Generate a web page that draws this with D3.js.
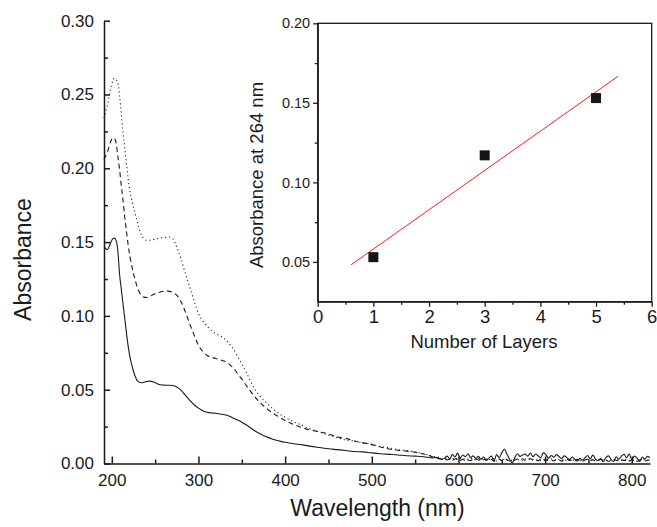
<!DOCTYPE html>
<html><head><meta charset="utf-8">
<script src="https://cdn.jsdelivr.net/npm/d3@7"></script>
<style>
body{margin:0;background:#fff}
svg{display:block}
text{font-family:"Liberation Sans",Arial,Helvetica,sans-serif;fill:#1a1a1a}
</style>
</head><body>
<svg id="c" width="657" height="527"></svg>
<script>
// ---- Main spectrum data (wavelength in nm) ----
const wavelength = [
191,193,195,197,199,201,203,205,207,209,
211,213,215,217,219,221,223,225,227,229,
231,234,237,240,244,248,252,256,260,265,
270,275,280,285,290,295,300,305,310,315,
320,325,330,335,340,345,350,355,360,365,
370,375,380,385,390,395,400,410,420,430,
440,450,460,470,480,490,500,510,520,530,
540,550,560,570,
575,578,581,584,587,590,593,596,599,602,
605,608,611,614,617,620,623,626,629,632,
635,638,641,644,647,650,653,656,659,662,
665,668,671,674,677,680,683,686,689,692,
695,698,701,704,707,710,713,716,719,722,
725,728,731,734,737,740,743,746,749,752,
755,758,761,764,767,770,773,776,779,782,
785,788,791,794,797,800,803,806,809,812,
815,818,821];

// 1 layer (solid)
const absLayer1 = [
.1470,.1455,.1450,.1470,.1500,.1522,.1527,.1512,.1440,.1280,
.1180,.1080,.0980,.0880,.0790,.0720,.0670,.0625,.0590,.0565,
.0553,.0547,.0551,.0555,.0558,.0552,.0542,.0534,.0531,.0530,
.0528,.0518,.0495,.0462,.0428,.0398,.0375,.0358,.0347,.0342,
.0340,.0335,.0330,.0322,.0309,.0295,.0280,.0262,.0242,.0222,
.0205,.0190,.0177,.0166,.0157,.0150,.0144,.0134,.0126,.0116,
.0108,.0100,.0094,.0088,.0081,.0079,.0072,.0066,.0062,.0058,
.0053,.0050,.0046,.0038,
.0040,.0032,.0028,.0036,.0050,.0030,.0062,.0044,.0070,.0038,
.0058,.0046,.0066,.0040,.0052,.0034,.0048,.0028,.0044,.0020,
.0036,.0050,.0018,.0060,.0040,.0072,.0098,.0062,.0030,.0004,
.0040,.0066,.0048,.0058,.0064,.0050,.0070,.0046,.0064,.0052,
.0040,.0074,.0058,.0036,.0054,.0042,.0060,.0048,.0034,.0052,
.0040,.0026,.0044,.0030,.0016,.0036,.0022,.0040,.0054,.0030,
.0058,.0032,.0020,.0034,.0012,.0040,.0052,.0028,.0014,.0046,
.0030,.0050,.0062,.0038,.0066,.0024,.0050,.0036,.0014,.0044,
.0030,.0048,.0040];

// 3 layers (dashed)
const absLayer3 = [
.2060,.2085,.2110,.2150,.2185,.2205,.2203,.2170,.2080,.1990,
.1880,.1780,.1665,.1570,.1475,.1400,.1340,.1285,.1245,.1200,
.1170,.1140,.1127,.1125,.1132,.1145,.1155,.1162,.1167,.1168,
.1160,.1140,.1095,.1025,.0945,.0870,.0800,.0760,.0732,.0720,
.0712,.0702,.0692,.0675,.0648,.0610,.0572,.0530,.0490,.0452,
.0420,.0390,.0366,.0345,.0326,.0308,.0292,.0264,.0242,.0226,
.0214,.0200,.0180,.0170,.0152,.0140,.0128,.0112,.0098,.0090,
.0084,.0076,.0064,.0046,
.0040,.0034,.0028,.0034,.0024,.0032,.0022,.0030,.0036,.0022,
.0028,.0034,.0024,.0020,.0030,.0024,.0032,.0018,.0026,.0030,
.0022,.0028,.0016,.0024,.0030,.0020,.0034,.0026,.0018,.0028,
.0022,.0030,.0024,.0032,.0020,.0026,.0034,.0022,.0028,.0018,
.0030,.0024,.0020,.0032,.0026,.0018,.0028,.0022,.0016,.0026,
.0030,.0020,.0024,.0018,.0028,.0022,.0014,.0024,.0030,.0020,
.0026,.0016,.0022,.0028,.0018,.0024,.0014,.0020,.0028,.0022,
.0016,.0026,.0020,.0030,.0018,.0024,.0020,.0014,.0024,.0028,
.0018,.0022,.0026];

// 5 layers (dotted)
const absLayer5 = [
.2340,.2385,.2430,.2490,.2545,.2590,.2610,.2600,.2580,.2490,
.2365,.2235,.2135,.2025,.1925,.1840,.1785,.1735,.1690,.1645,
.1600,.1550,.1522,.1513,.1513,.1517,.1522,.1527,.1530,.1535,
.1525,.1465,.1385,.1285,.1195,.1100,.1015,.0965,.0930,.0900,
.0880,.0865,.0845,.0815,.0778,.0728,.0675,.0620,.0558,.0505,
.0465,.0430,.0402,.0375,.0352,.0330,.0313,.0283,.0257,.0232,
.0212,.0192,.0176,.0160,.0152,.0138,.0132,.0115,.0106,.0094,
.0088,.0078,.0066,.0050,
.0044,.0038,.0032,.0026,.0034,.0028,.0036,.0024,.0030,.0034,
.0026,.0020,.0030,.0036,.0024,.0028,.0020,.0032,.0026,.0022,
.0030,.0024,.0034,.0018,.0028,.0024,.0030,.0022,.0026,.0020,
.0032,.0024,.0028,.0018,.0030,.0034,.0024,.0028,.0020,.0026,
.0022,.0030,.0018,.0026,.0032,.0024,.0020,.0028,.0022,.0030,
.0018,.0026,.0020,.0028,.0024,.0016,.0026,.0020,.0028,.0024,
.0018,.0026,.0030,.0020,.0024,.0018,.0026,.0022,.0016,.0028,
.0024,.0020,.0026,.0018,.0022,.0028,.0020,.0016,.0026,.0022,
.0028,.0020,.0024];

// ---- Inset data ----
const layers = [1, 3, 5];
const abs264 = [0.053, 0.117, 0.153];
const fitLayers = [0.6, 5.4];
const fitAbs = [0.0482, 0.1668];

// ---- Tick values ----
const mainXTicks = [200, 300, 400, 500, 600, 700, 800];
const mainXMinor = [250, 350, 450, 550, 650, 750];
const mainYTicks = [0, 0.05, 0.10, 0.15, 0.20, 0.25, 0.30];
const mainYMinor = [0.025, 0.075, 0.125, 0.175, 0.225, 0.275];
const insetXTicks = [0, 1, 2, 3, 4, 5, 6];
const insetXMinor = [0.5, 1.5, 2.5, 3.5, 4.5, 5.5];
const insetYTicks = [0.05, 0.10, 0.15, 0.20];
const insetYMinor = [0.075, 0.125, 0.175];

const svg = d3.select("#c");
const ink = "#1a1a1a";

// ---- Main plot ----
const x = d3.scaleLinear().domain([191, 821]).range([104, 650]);
const y = d3.scaleLinear().domain([0, 0.30]).range([463.5, 20.7]);

function styleAxis(g, w) {
  g.select(".domain").attr("stroke", ink).attr("stroke-width", w);
  g.selectAll(".tick line").attr("stroke", ink).attr("stroke-width", w);
}

const series = [
  {vals: absLayer1, dash: null},
  {vals: absLayer3, dash: "5,3.5"},
  {vals: absLayer5, dash: "1.1,2.9"}
];
const line = d3.line().x(d => x(d[0])).y(d => y(d[1])).curve(d3.curveMonotoneX);
series.forEach(s => {
  const pts = s.vals.map((v, i) => [wavelength[i], v]).filter(p => p[0] !== undefined);
  svg.append("path").datum(pts)
    .attr("d", line).attr("fill", "none")
    .attr("stroke", ink).attr("stroke-width", 1.1)
    .attr("stroke-dasharray", s.dash);
});

const gx = svg.append("g").attr("transform", "translate(0,463.5)")
  .call(d3.axisBottom(x).tickValues(mainXTicks).tickSize(-7).tickSizeOuter(0).tickPadding(10).tickFormat(d3.format("d")));
gx.selectAll("text").attr("font-size", 17).attr("fill", ink);
styleAxis(gx, 1.5);
const gxm = svg.append("g").attr("transform", "translate(0,463.5)")
  .call(d3.axisBottom(x).tickValues(mainXMinor).tickSize(-4).tickSizeOuter(0).tickFormat(""));
gxm.select(".domain").remove();
styleAxis(gxm, 1.5);

const gy = svg.append("g").attr("transform", "translate(104,0)")
  .call(d3.axisLeft(y).tickValues(mainYTicks).tickSize(-6).tickSizeOuter(0).tickPadding(10).tickFormat(d3.format(".2f")));
gy.selectAll("text").attr("font-size", 17).attr("fill", ink);
styleAxis(gy, 1.5);
const gym = svg.append("g").attr("transform", "translate(104,0)")
  .call(d3.axisLeft(y).tickValues(mainYMinor).tickSize(-4).tickSizeOuter(0).tickFormat(""));
gym.select(".domain").remove();
styleAxis(gym, 1.5);

svg.append("text").attr("transform", "translate(31,259.5) rotate(-90)")
  .attr("text-anchor", "middle").attr("font-size", 23).text("Absorbance");
svg.append("text").attr("x", 377.5).attr("y", 516)
  .attr("text-anchor", "middle").attr("font-size", 23).text("Wavelength (nm)");

// ---- Inset ----
const xi = d3.scaleLinear().domain([0, 6]).range([317.7, 651.7]);
const yi = d3.scaleLinear().domain([0.025, 0.20]).range([301.7, 23.3]);

svg.append("rect").attr("x", xi(0)).attr("y", yi(0.20))
  .attr("width", xi(6) - xi(0)).attr("height", yi(0.025) - yi(0.20))
  .attr("fill", "none").attr("stroke", ink).attr("stroke-width", 1.3);

const gix = svg.append("g").attr("transform", `translate(0,${yi(0.025)})`)
  .call(d3.axisBottom(xi).tickValues(insetXTicks).tickSize(5).tickSizeOuter(0).tickPadding(3).tickFormat(d3.format("d")));
gix.selectAll("text").attr("font-size", 18.5).attr("fill", ink);
styleAxis(gix, 1.3);
const gixm = svg.append("g").attr("transform", `translate(0,${yi(0.025)})`)
  .call(d3.axisBottom(xi).tickValues(insetXMinor).tickSize(3).tickSizeOuter(0).tickFormat(""));
gixm.select(".domain").remove();
styleAxis(gixm, 1.3);

const giy = svg.append("g").attr("transform", `translate(${xi(0)},0)`)
  .call(d3.axisLeft(yi).tickValues(insetYTicks).tickSize(4.5).tickSizeOuter(0).tickPadding(3).tickFormat(d3.format(".2f")));
giy.selectAll("text").attr("font-size", 14.5).attr("fill", ink);
styleAxis(giy, 1.3);
const giym = svg.append("g").attr("transform", `translate(${xi(0)},0)`)
  .call(d3.axisLeft(yi).tickValues(insetYMinor).tickSize(3).tickSizeOuter(0).tickFormat(""));
giym.select(".domain").remove();
styleAxis(giym, 1.3);

// fit line
svg.append("line")
  .attr("x1", xi(fitLayers[0])).attr("y1", yi(fitAbs[0]))
  .attr("x2", xi(fitLayers[1])).attr("y2", yi(fitAbs[1]))
  .attr("stroke", "#ff1a1a").attr("stroke-width", 1);

// points
const sq = 10;
svg.selectAll("rect.pt").data(layers.map((l, i) => [l, abs264[i]])).join("rect")
  .attr("class", "pt")
  .attr("x", d => xi(d[0]) - sq / 2).attr("y", d => yi(d[1]) - sq / 2)
  .attr("width", sq).attr("height", sq).attr("fill", "#161616");

svg.append("text").attr("transform", "translate(263,175) rotate(-90)")
  .attr("text-anchor", "middle").attr("font-size", 18.5).text("Absorbance at 264 nm");
svg.append("text").attr("x", 484).attr("y", 348)
  .attr("text-anchor", "middle").attr("font-size", 18.5).text("Number of Layers");
</script>
</body></html>
